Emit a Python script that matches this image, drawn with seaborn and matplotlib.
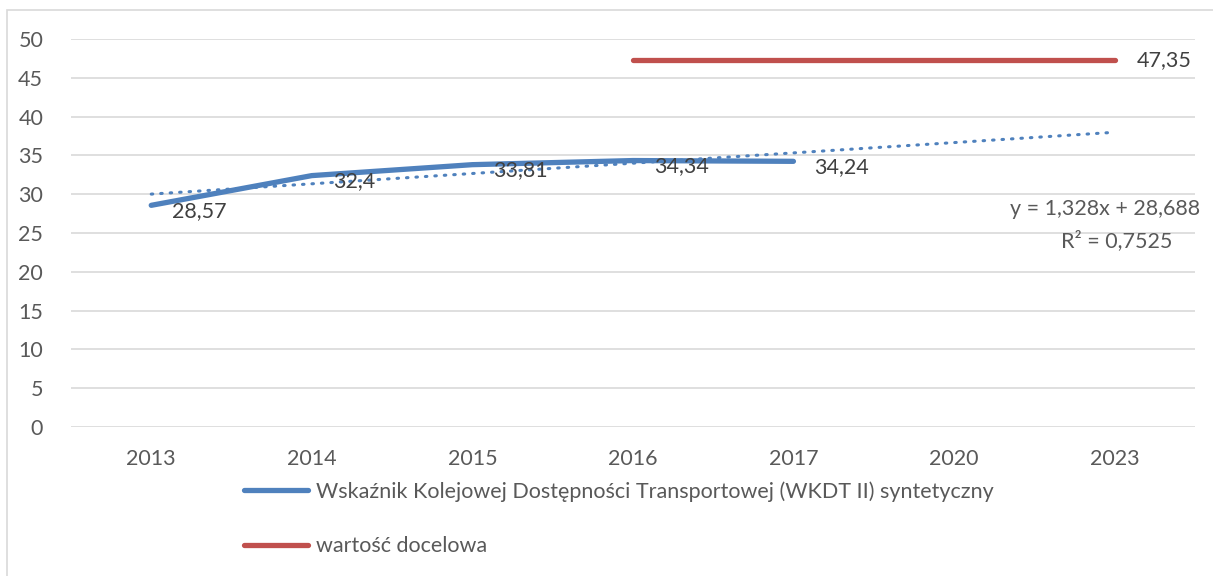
import numpy as np
import pandas as pd
import seaborn as sns
import matplotlib.pyplot as plt
from matplotlib.patches import Rectangle

years = ["2013", "2014", "2015", "2016", "2017", "2020", "2023"]
wkdt_years = ["2013", "2014", "2015", "2016", "2017"]
wkdt_values = [28.57, 32.4, 33.81, 34.34, 34.24]
target_years = ["2016", "2017", "2020", "2023"]
target_values = [47.35, 47.35, 47.35, 47.35]

wkdt_name = "Wskaźnik Kolejowej Dostępności Transportowej (WKDT II) syntetyczny"
target_name = "wartość docelowa"

blue = "#4f81bd"
red = "#c0504d"
fs = 15.5

sns.set_theme(style="white")
plt.rcParams["font.family"] = ["Lato", "DejaVu Sans"]

pos = {y: i for i, y in enumerate(years)}
df_w = pd.DataFrame({"x": [pos[y] for y in wkdt_years], "y": wkdt_values})
df_t = pd.DataFrame({"x": [pos[y] for y in target_years], "y": target_values})

fig = plt.figure(figsize=(12.13, 5.76), dpi=100)
ax = fig.add_axes([0.0585, 0.2587, 0.9265, 0.6735])

# linear trend over the series, Excel numbers x as 1..n
xs = np.arange(1, len(wkdt_values) + 1)
slope, icpt = np.polyfit(xs, wkdt_values, 1)
trend_x = np.array([0, len(years) - 1])
trend_y = slope * (trend_x + 1) + icpt
ss_res = np.sum((np.array(wkdt_values) - (slope * xs + icpt)) ** 2)
ss_tot = np.sum((np.array(wkdt_values) - np.mean(wkdt_values)) ** 2)
r2 = 1 - ss_res / ss_tot

sns.lineplot(data=df_w, x="x", y="y", ax=ax, color=blue, lw=3.8,
             solid_capstyle="round", label=wkdt_name, zorder=3)
sns.lineplot(data=df_t, x="x", y="y", ax=ax, color=red, lw=3.8,
             solid_capstyle="round", label=target_name, zorder=3)
ax.plot(trend_x, trend_y, color=blue, lw=2.2, linestyle=(0, (0.5, 2.6)),
        dash_capstyle="round", zorder=2)

lab_color = "#404040"
for x, y in zip(df_w["x"], df_w["y"]):
    ax.annotate(f"{y:g}".replace(".", ","), (x, y), xytext=(15, -4),
                textcoords="offset points", ha="left", va="center",
                fontsize=fs, color=lab_color, zorder=4)
ax.annotate(f"{target_values[-1]:.2f}".replace(".", ","),
            (df_t["x"].iloc[-1], target_values[-1]), xytext=(16, 0),
            textcoords="offset points", ha="left", va="center",
            fontsize=fs, color=lab_color)

ax.text(1.005, 0.562, f"y = {slope:.3f}x + {icpt:.3f}".replace(".", ","),
        transform=ax.transAxes, ha="right", va="center", fontsize=fs,
        color="#595959")
ax.text(0.98, 0.48, f"R² = {r2:.4f}".replace(".", ","),
        transform=ax.transAxes, ha="right", va="center", fontsize=fs,
        color="#595959")

ax.set_xlim(-0.5, len(years) - 0.5)
ax.set_ylim(0, 50)
ax.set_xticks(range(len(years)))
ax.set_xticklabels(years)
ax.set_yticks(range(0, 51, 5))
ax.yaxis.grid(True, color="#d9d9d9", lw=1.2)
ax.set_axisbelow(True)
ax.tick_params(axis="both", labelsize=fs, labelcolor="#595959", length=0)
ax.tick_params(axis="y", pad=20)
ax.tick_params(axis="x", pad=16)
ax.set_xlabel("")
ax.set_ylabel("")
sns.despine(ax=ax, left=True, bottom=True)

leg = ax.legend(loc="upper left", bbox_to_anchor=(0.146, -0.118), frameon=False,
                fontsize=fs, labelcolor="#595959", handlelength=3.0,
                handletextpad=0.35, labelspacing=1.6, borderaxespad=0)

fig.patches.append(Rectangle((7 / 1213, -0.1), 1.2, 1 - 10 / 576 + 0.1,
                             transform=fig.transFigure, fill=False,
                             edgecolor="#d9d9d9", lw=1.2))

plt.savefig("out.png", dpi=100)
plt.close(fig)
